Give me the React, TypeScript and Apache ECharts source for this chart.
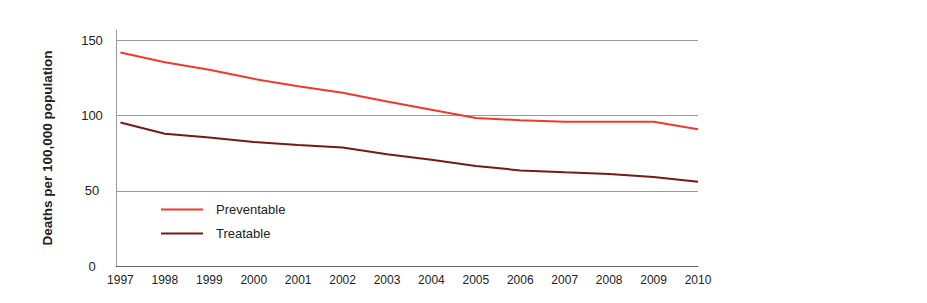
import React, { useEffect, useRef } from "react";
import * as echarts from "echarts";

const years = [1997, 1998, 1999, 2000, 2001, 2002, 2003, 2004, 2005, 2006, 2007, 2008, 2009, 2010];
const preventable = [142, 135.5, 130.5, 124.5, 119.6, 115.3, 109.5, 104, 98.4, 97, 96, 96, 96, 91];
const treatable = [95.5, 88, 85.5, 82.5, 80.5, 78.8, 74.3, 70.7, 66.6, 63.6, 62.3, 61.2, 59.2, 56];
const yTicks = [0, 50, 100, 150];

const FONT = "'Liberation Sans', Arial, Helvetica, sans-serif";

export default function App() {
  const ref = useRef<HTMLDivElement>(null);
  useEffect(() => {
    if (!ref.current) return;
    const chart = echarts.init(ref.current, undefined, { renderer: "svg" });
    chart.setOption({
      animation: false,
      textStyle: { fontFamily: FONT },
      grid: { left: 116, right: 229, top: 30, bottom: 37, containLabel: false },
      legend: {
        orient: "vertical",
        left: 156,
        top: 198,
        itemWidth: 42,
        itemHeight: 14,
        itemGap: 11,
        textStyle: { fontSize: 13, color: "#222", fontFamily: FONT, padding: [0, 0, 0, 8] },
        data: [
          { name: "Preventable", icon: "path://M0,0 L42,0 L42,2 L0,2 Z" },
          { name: "Treatable", icon: "path://M0,0 L42,0 L42,2 L0,2 Z" },
        ],
      },
      xAxis: {
        type: "value",
        min: 1996.9,
        max: 2010,
        axisLine: { show: true, lineStyle: { color: "#666", width: 1 } },
        axisTick: { show: false },
        splitLine: { show: false },
        axisLabel: {
          customValues: years,
          formatter: (v: number) => String(v),
          fontSize: 12,
          color: "#222",
          margin: 8,
          fontFamily: FONT,
        },
      },
      yAxis: {
        type: "value",
        min: 0,
        max: 157,
        interval: 50,
        name: "Deaths per 100,000 population",
        nameLocation: "middle",
        nameGap: 62,
        nameRotate: 90,
        nameTextStyle: { fontSize: 13.5, fontWeight: "bold", color: "#222", fontFamily: FONT },
        axisLine: { show: true, lineStyle: { color: "#999", width: 1 } },
        axisTick: { show: false },
        axisLabel: {
          customValues: yTicks,
          align: "center",
          margin: 24,
          fontSize: 13,
          color: "#222",
          fontFamily: FONT,
        },
        splitLine: {
          show: true,
          showMinLine: false,
          showMaxLine: false,
          lineStyle: { color: ["#999", "#999", "#999", "#ccc"], width: 1 },
        },
      },
      series: [
        {
          name: "Preventable",
          type: "line",
          symbol: "none",
          data: years.map((y, i) => [y, preventable[i]]),
          lineStyle: { color: "#ef3a2b", width: 2 },
          itemStyle: { color: "#ef3a2b" },
        },
        {
          name: "Treatable",
          type: "line",
          symbol: "none",
          data: years.map((y, i) => [y, treatable[i]]),
          lineStyle: { color: "#761a14", width: 2 },
          itemStyle: { color: "#761a14" },
        },
      ],
    });
    return () => chart.dispose();
  }, []);
  return <div ref={ref} style={{ width: 927, height: 303, position: "absolute", left: 0, top: 0 }} />;
}
